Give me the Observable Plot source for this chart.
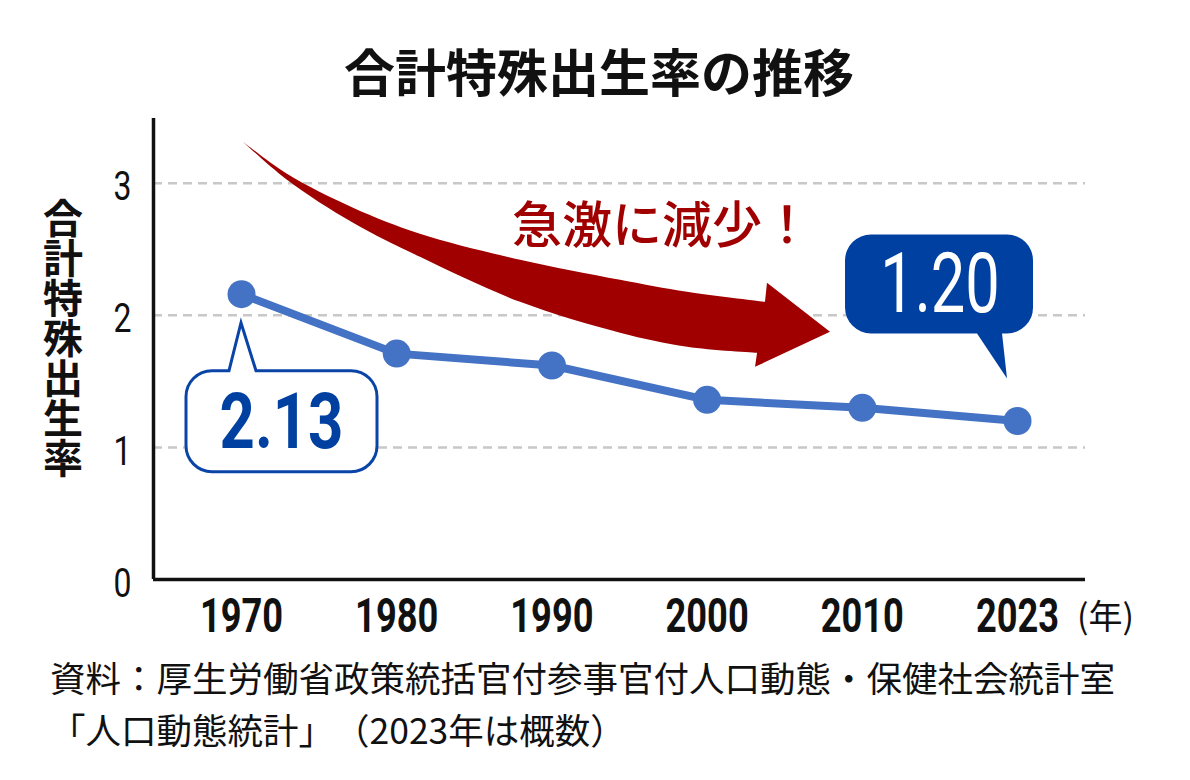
<!DOCTYPE html>
<html><head><meta charset="utf-8">
<script src="https://cdn.jsdelivr.net/npm/d3@7"></script>
<script src="https://cdn.jsdelivr.net/npm/@observablehq/plot@0.6"></script>
<style>
body{margin:0;background:#fff;}
#wrap{position:relative;width:1190px;height:780px;font-family:"Noto Sans CJK JP",sans-serif;color:#111;overflow:hidden;}
#title{position:absolute;left:0;width:1198px;top:45px;text-align:center;font-size:51px;font-weight:700;line-height:1;}
#chart{position:absolute;left:0;top:110px;}
#ylabel{position:absolute;left:43px;top:198px;writing-mode:vertical-rl;font-size:40px;line-height:40px;font-weight:700;z-index:2;}
#note{position:absolute;left:50px;top:651px;font-size:35.5px;line-height:52px;white-space:nowrap;text-spacing-trim:space-all;font-kerning:none;}
</style>
</head><body>
<div id="wrap">
  <div id="title"></div>
  <div id="chart"></div>
  <div id="ylabel"></div>
  <div id="note"></div>
</div>
<script>
// ---- data ----
const years = ["1970", "1980", "1990", "2000", "2010", "2023"];
const rates = [2.16, 1.71, 1.62, 1.36, 1.30, 1.20];
const yTicks = [0, 1, 2, 3];
const gridValues = [1, 2, 3];
const firstLabel = "2.13";
const lastLabel = "1.20";
const titleText = "合計特殊出生率の推移";
const yAxisTitle = "合計特殊出生率";
const xUnit = "(年)";
const arrowText = "急激に減少！";
const noteLines = ["資料：厚生労働省政策統括官付参事官付人口動態・保健社会統計室", "「人口動態統計」（2023年は概数）"];
// arrow geometry in data units (x = year index, y = rate)
const arrowUpper = [[0.013,3.311],[0.296,3.068],[0.722,2.811],[1.153,2.614],[1.798,2.417],[2.442,2.265],[2.874,2.174],[3.376,2.098]];
const arrowHead  = [[3.389,2.242],[3.795,1.871],[3.312,1.606]];
const arrowLower = [[3.325,1.712],[2.874,1.758],[2.442,1.864],[1.798,2.098],[1.153,2.439],[0.722,2.697],[0.296,3.023],[0.013,3.311]];
const arrowTextPos = [1.746, 2.542];

document.getElementById("title").textContent = titleText;
document.getElementById("ylabel").textContent = yAxisTitle;
document.getElementById("note").innerHTML = noteLines.join("<br>");

const data = years.map((y, i) => ({i, year: y, rate: rates[i]}));
const xDomain = [-0.567, 5.438];
const yDomain = [0, 3.49];
const NUM = "Roboto,'Liberation Sans',sans-serif";
const CJK = "'Noto Sans CJK JP',sans-serif";

const plot = Plot.plot({
  width: 1190, height: 545,
  marginLeft: 153, marginRight: 105, marginTop: 8, marginBottom: 76,
  x: {domain: xDomain, axis: null, label: null},
  y: {domain: yDomain, axis: null, label: null},
  style: {fontFamily: CJK, background: "#fff", color: "#111"},
  marks: [
    Plot.ruleY(gridValues, {stroke: "#c8c8c8", strokeWidth: 2.5, strokeDasharray: "9,6"}),
    Plot.axisY(yTicks, {tickSize: 0, tickPadding: 22, dy: 4, tickFormat: d => String(d), fontSize: 41, fontFamily: NUM, label: null}),
    Plot.axisX(d3.range(years.length), {tickSize: 0, tickPadding: 18, tickFormat: i => years[i], fontSize: 49, fontWeight: "bold", fontFamily: NUM, label: null}),
    Plot.ruleX([xDomain[0]], {stroke: "#111", strokeWidth: 3.5}),
    Plot.ruleY([0], {stroke: "#111", strokeWidth: 3.5}),
    Plot.line(data, {x: "i", y: "rate", stroke: "#4472c4", strokeWidth: 8}),
    Plot.dot(data, {x: "i", y: "rate", r: 14, fill: "#4472c4"}),
    Plot.text([xUnit], {frameAnchor: "bottom-right", dx: 20, dy: 49, fontSize: 34, textAnchor: "middle", fill: "#111"})
  ]
});
document.getElementById("chart").appendChild(plot);

// condense the numeric tick labels horizontally
function condense(sel, s) {
  sel.each(function() {
    const t = this.getAttribute("transform") || "";
    this.setAttribute("transform", `${t} scale(${s},1)`);
  });
}
condense(d3.select(plot).selectAll('g[aria-label="y-axis tick label"] text'), 0.78);
condense(d3.select(plot).selectAll('g[aria-label="x-axis tick label"] text'), 0.74);

// ---- annotations via scales ----
const sx = plot.scale("x"), sy = plot.scale("y");
const X = v => sx.apply(v), Y = v => sy.apply(v);
const svg = d3.select(plot);
const g = svg.append("g").attr("class", "annotations");

// arrow
const curve = d3.line().x(d => X(d[0])).y(d => Y(d[1])).curve(d3.curveCatmullRom);
const up = curve(arrowUpper);
const low = curve(arrowLower).replace(/^M/, "L");
const head = arrowHead.map(d => `L${X(d[0])},${Y(d[1])}`).join("");
g.append("path").attr("d", up + head + low + "Z").attr("fill", "#a00000");
g.append("text").attr("x", X(arrowTextPos[0])).attr("y", Y(arrowTextPos[1]))
  .attr("text-anchor", "start")
  .attr("font-family", CJK).attr("font-size", 50).attr("font-weight", 500)
  .attr("fill", "#a00000").text(arrowText);

function bubble(x0, y0, x1, y1, r, side, tb0, tb1, tx, ty) {
  let p = `M${x0 + r},${y0}`;
  if (side === "top") p += `L${tb0},${y0}L${tx},${ty}L${tb1},${y0}`;
  p += `L${x1 - r},${y0}A${r},${r} 0 0 1 ${x1},${y0 + r}`;
  p += `L${x1},${y1 - r}A${r},${r} 0 0 1 ${x1 - r},${y1}`;
  if (side === "bottom") p += `L${tb1},${y1}L${tx},${ty}L${tb0},${y1}`;
  p += `L${x0 + r},${y1}A${r},${r} 0 0 1 ${x0},${y1 - r}`;
  p += `L${x0},${y0 + r}A${r},${r} 0 0 1 ${x0 + r},${y0}Z`;
  return p;
}
// first value callout
{
  const px = X(0), py = Y(rates[0]);
  g.append("path").attr("d", bubble(px - 55, py + 77, px + 136, py + 178, 26, "top", px - 12, px + 15, px, py + 29))
    .attr("fill", "#fff").attr("stroke", "#0a44a6").attr("stroke-width", 3).attr("stroke-linejoin", "miter");
  g.append("text").attr("transform", `translate(${px + 40.5},${py + 154}) scale(0.8,1)`).attr("text-anchor", "middle")
    .attr("font-family", NUM).attr("font-size", 77).attr("font-weight", "bold").attr("fill", "#0040a0").text(firstLabel);
}
// last value callout
{
  const n = rates.length - 1;
  const px = X(n), py = Y(rates[n]);
  g.append("path").attr("d", bubble(px - 172, py - 186, px + 16, py - 87, 26, "bottom", px - 40, px - 15, px - 10, py - 42))
    .attr("fill", "#0040a0");
  g.append("text").attr("transform", `translate(${px - 77},${py - 108}) scale(0.74,1)`).attr("text-anchor", "middle")
    .attr("font-family", NUM).attr("font-size", 83).attr("fill", "#fff").text(lastLabel);
}
</script>
</body></html>
